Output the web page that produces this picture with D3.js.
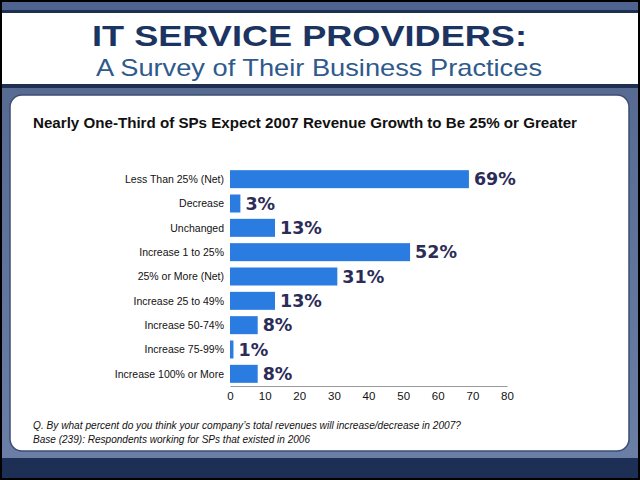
<!DOCTYPE html>
<html>
<head>
<meta charset="utf-8">
<script src="https://cdn.jsdelivr.net/npm/d3@7"></script>
<style>
  html, body { margin: 0; padding: 0; background: #000; }
  svg { display: block; }
</style>
</head>
<body>
<div id="chart"></div>
<script>
// chart data
const categories = [
  'Less Than 25% (Net)',
  'Decrease',
  'Unchanged',
  'Increase 1 to 25%',
  '25% or More (Net)',
  'Increase 25 to 49%',
  'Increase 50-74%',
  'Increase 75-99%',
  'Increase 100% or More'
];
const values = [69, 3, 13, 52, 31, 13, 8, 1, 8];
const xTicks = [0, 10, 20, 30, 40, 50, 60, 70, 80];

const titleText = 'IT SERVICE PROVIDERS:';
const subtitleText = 'A Survey of Their Business Practices';
const chartTitle = 'Nearly One-Third of SPs Expect 2007 Revenue Growth to Be 25% or Greater';
const notes = [
  'Q. By what percent do you think your company\u2019s total revenues will increase/decrease in 2007?',
  'Base (239):  Respondents working for SPs that existed in 2006'
];

const width = 640, height = 480;
const font = 'Liberation Sans, Arial, sans-serif';
const svg = d3.select('#chart').append('svg')
  .attr('width', width).attr('height', height);

const defs = svg.append('defs');
const grad = defs.append('linearGradient').attr('id', 'bg').attr('x1', 0).attr('x2', 0).attr('y1', 0).attr('y2', 1);
grad.append('stop').attr('offset', '0%').attr('stop-color', '#566a92');
grad.append('stop').attr('offset', '100%').attr('stop-color', '#6b7fa6');

// frame
svg.append('rect').attr('x', 0).attr('y', 0).attr('width', width).attr('height', height).attr('fill', '#000');
svg.append('rect').attr('x', 2).attr('y', 2).attr('width', 636).attr('height', 8).attr('fill', '#4e6390');
svg.append('rect').attr('x', 2).attr('y', 10).attr('width', 636).attr('height', 3).attr('fill', '#1e2f52');
svg.append('rect').attr('x', 2).attr('y', 13).attr('width', 636).attr('height', 71).attr('fill', '#ffffff');
svg.append('rect').attr('x', 2).attr('y', 84).attr('width', 636).attr('height', 4).attr('fill', '#1e2f52');
svg.append('rect').attr('x', 2).attr('y', 88).attr('width', 636).attr('height', 370).attr('fill', 'url(#bg)');
svg.append('rect').attr('x', 2).attr('y', 458).attr('width', 636).attr('height', 20).attr('fill', '#1d2f55');

// header (the original face is wider than Arial, so stretch it)
svg.append('text')
  .attr('x', 92).attr('y', 46)
  .attr('font-family', font)
  .attr('font-weight', 'bold')
  .attr('font-size', 30)
  .attr('fill', '#1b3462')
  .attr('textLength', 435)
  .attr('lengthAdjust', 'spacingAndGlyphs')
  .text(titleText);

svg.append('text')
  .attr('x', 96).attr('y', 76)
  .attr('font-family', font)
  .attr('font-size', 24)
  .attr('fill', '#2f5a8c')
  .attr('textLength', 446)
  .attr('lengthAdjust', 'spacingAndGlyphs')
  .text(subtitleText);

// white panel
svg.append('rect')
  .attr('x', 10).attr('y', 95)
  .attr('width', 619).attr('height', 356)
  .attr('rx', 12).attr('ry', 12)
  .attr('fill', '#ffffff')
  .attr('stroke', '#3d4e72')
  .attr('stroke-width', 1.5);

svg.append('text')
  .attr('x', 33).attr('y', 128)
  .attr('font-family', font)
  .attr('font-weight', 'bold')
  .attr('font-size', 15)
  .attr('fill', '#111')
  .attr('textLength', 544)
  .attr('lengthAdjust', 'spacingAndGlyphs')
  .text(chartTitle);

// chart
const margin = {left: 230, right: 133, top: 167, bottom: 94};
const x = d3.scaleLinear().domain([0, 80]).range([margin.left, width - margin.right]);
const y = d3.scaleBand().domain(categories).range([margin.top, height - margin.bottom]).paddingInner(0.26).paddingOuter(0.13);

const g = svg.append('g');

g.selectAll('.bar')
  .data(values)
  .enter().append('rect')
  .attr('class', 'bar')
  .attr('x', x(0))
  .attr('y', (d, i) => y(categories[i]))
  .attr('width', d => x(d) - x(0))
  .attr('height', y.bandwidth())
  .attr('fill', '#2a7ce0');

g.selectAll('.val')
  .data(values)
  .enter().append('text')
  .attr('class', 'val')
  .attr('x', d => x(d) + 5)
  .attr('y', (d, i) => y(categories[i]) + y.bandwidth() / 2)
  .attr('dy', '0.36em')
  .attr('font-family', 'DejaVu Sans, sans-serif')
  .attr('font-weight', 'bold')
  .attr('font-size', 17.5)
  .attr('fill', '#2c2c58')
  .text(d => d + '%');

g.selectAll('.cat')
  .data(categories)
  .enter().append('text')
  .attr('class', 'cat')
  .attr('x', x(0) - 6)
  .attr('y', d => y(d) + y.bandwidth() / 2)
  .attr('dy', '0.35em')
  .attr('text-anchor', 'end')
  .attr('font-family', font)
  .attr('font-size', 10.5)
  .attr('fill', '#111')
  .text(d => d);

const xAxis = d3.axisBottom(x).tickValues(xTicks).tickSize(0).tickPadding(6);
const axisG = svg.append('g')
  .attr('transform', 'translate(0,' + (height - margin.bottom) + ')')
  .call(xAxis);
axisG.select('.domain').attr('stroke', '#999').attr('stroke-width', 1.2);
axisG.selectAll('text')
  .attr('font-family', font)
  .attr('font-size', 11.5)
  .attr('fill', '#111');

// footnotes (condensed italic in the original)
const noteWidths = [428, 277];
svg.selectAll('.note')
  .data(notes)
  .enter().append('text')
  .attr('class', 'note')
  .attr('x', 33)
  .attr('y', (d, i) => 429 + i * 14)
  .attr('font-family', font)
  .attr('font-style', 'italic')
  .attr('font-size', 11.5)
  .attr('fill', '#111')
  .attr('textLength', (d, i) => noteWidths[i])
  .attr('lengthAdjust', 'spacingAndGlyphs')
  .text(d => d);
</script>
</body>
</html>
